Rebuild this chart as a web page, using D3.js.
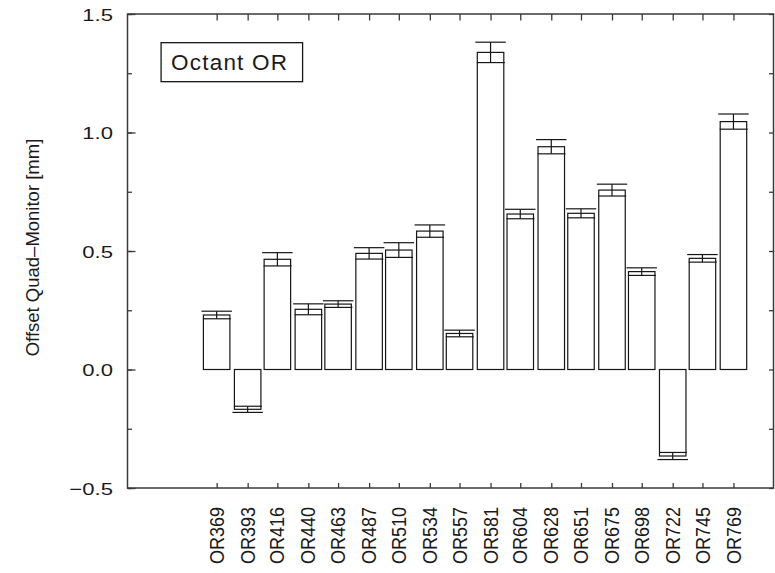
<!DOCTYPE html>
<html>
<head>
<meta charset="utf-8">
<script src="https://cdn.jsdelivr.net/npm/d3@7"></script>
<style>
  html, body { margin: 0; padding: 0; background: #fff; }
  svg { display: block; }
  text { font-family: "Liberation Sans", Arial, Helvetica, sans-serif; fill: #1a1a1a; }
</style>
</head>
<body>
<svg id="chart" width="775" height="573"></svg>
<script>
// Quadrupole stations of octant OR and their position along the beam line
const stations = ["OR369","OR393","OR416","OR440","OR463","OR487","OR510","OR534","OR557",
                  "OR581","OR604","OR628","OR651","OR675","OR698","OR722","OR745","OR769"];
const positions = [369, 393, 416, 440, 463, 487, 510, 534, 557,
                   581, 604, 628, 651, 675, 698, 722, 745, 769];
// Offset between quadrupole and monitor [mm] and its uncertainty
const offsets = [0.230, -0.168, 0.465, 0.254, 0.276, 0.490, 0.504, 0.584, 0.152,
                 1.338, 0.656, 0.940, 0.659, 0.757, 0.413, -0.365, 0.469, 1.046];
const errors  = [0.016, 0.013, 0.028, 0.023, 0.014, 0.024, 0.031, 0.026, 0.014,
                 0.043, 0.020, 0.030, 0.019, 0.025, 0.016, 0.015, 0.016, 0.032];
const yMajorTicks = [-0.5, 0.0, 0.5, 1.0, 1.5];
const yMinorTicks = [-0.5, -0.25, 0, 0.25, 0.5, 0.75, 1.0, 1.25, 1.5];
const legendLabel = "Octant OR";
const yTitle = "Offset Quad\u2013Monitor [mm]";

const svg = d3.select("#chart");
const margin = { left: 127.5, right: 1.5, top: 14, bottom: 85 };
const W = 775, H = 573;
const x0 = margin.left, x1 = W - margin.right, y0 = margin.top, y1 = H - margin.bottom;

const x = d3.scaleLinear().domain([300, 800]).range([x0, x1]);
const y = d3.scaleLinear().domain([-0.5, 1.5]).range([y1, y0]);

const lineColor = "#161616";
const frameColor = "#3a3a3a";
const barWidth = 26.5;

const data = stations.map((s, i) => ({ name: s, pos: positions[i], v: offsets[i], e: errors[i] }));

// Bars
const g = svg.append("g");
g.selectAll("rect.bar").data(data).enter().append("rect")
  .attr("class", "bar")
  .attr("x", d => x(d.pos) - barWidth / 2)
  .attr("width", barWidth)
  .attr("y", d => Math.min(y(d.v), y(0)))
  .attr("height", d => Math.abs(y(d.v) - y(0)))
  .attr("fill", "#fff")
  .attr("stroke", lineColor)
  .attr("stroke-width", 1.2);

// Error bars: outer cap (away from zero) slightly wider than the inner one
const eb = g.selectAll("g.err").data(data).enter().append("g").attr("class", "err")
  .attr("stroke", lineColor).attr("stroke-width", 1.2);
eb.append("line")
  .attr("x1", d => x(d.pos)).attr("x2", d => x(d.pos))
  .attr("y1", d => y(d.v + d.e)).attr("y2", d => y(d.v - d.e));
eb.append("line")
  .attr("x1", d => x(d.pos) - barWidth / 2 - 2).attr("x2", d => x(d.pos) + barWidth / 2 + 2)
  .attr("y1", d => y(d.v + Math.sign(d.v) * d.e)).attr("y2", d => y(d.v + Math.sign(d.v) * d.e));
eb.append("line")
  .attr("x1", d => x(d.pos) - barWidth / 2 - 0.5).attr("x2", d => x(d.pos) + barWidth / 2 + 1)
  .attr("y1", d => y(d.v - Math.sign(d.v) * d.e)).attr("y2", d => y(d.v - Math.sign(d.v) * d.e));

// Axes with inward ticks
function styleAxis(sel) {
  sel.select(".domain").remove();
  sel.selectAll(".tick line").attr("stroke", frameColor).attr("stroke-width", 1.3);
}

// left minor ticks
svg.append("g").attr("transform", `translate(${x0},0)`)
  .call(d3.axisLeft(y).tickValues(yMinorTicks).tickSize(-4.5).tickFormat(""))
  .call(styleAxis);
// left major ticks + labels
const yAxisL = svg.append("g").attr("transform", `translate(${x0},0)`)
  .call(d3.axisLeft(y).tickValues(yMajorTicks).tickSize(-8).tickPadding(11.2).tickFormat(d3.format(".1f")))
  .call(styleAxis);
yAxisL.selectAll(".tick text")
  .attr("font-size", 17).attr("fill", "#1a1a1a")
  .attr("transform", "scale(1.3,1)")
  .attr("dy", "0.36em");

// right ticks
svg.append("g").attr("transform", `translate(${x1},0)`)
  .call(d3.axisRight(y).tickValues(yMinorTicks).tickSize(-4.5).tickFormat(""))
  .call(styleAxis);

// top ticks
svg.append("g").attr("transform", `translate(0,${y0})`)
  .call(d3.axisTop(x).tickValues(positions).tickSize(-6.5).tickFormat(""))
  .call(styleAxis);

// bottom ticks + rotated station labels
const xAxisB = svg.append("g").attr("transform", `translate(0,${y1})`)
  .call(d3.axisBottom(x).tickValues(positions).tickSize(-5).tickFormat((d, i) => stations[i]))
  .call(styleAxis);
xAxisB.selectAll(".tick text")
  .attr("font-size", 18).attr("fill", "#1a1a1a")
  .attr("text-anchor", "end")
  .attr("transform", "rotate(-90) scale(1,1.08)")
  .attr("x", -19).attr("y", 0).attr("dy", "0.34em");

// Frame
svg.append("rect")
  .attr("x", x0).attr("y", y0).attr("width", x1 - x0).attr("height", y1 - y0)
  .attr("fill", "none").attr("stroke", frameColor).attr("stroke-width", 1.5);

// Legend box
const lg = svg.append("g");
lg.append("rect")
  .attr("x", x(326)).attr("y", y(1.379)).attr("width", 141.5).attr("height", 39)
  .attr("fill", "#fff").attr("stroke", lineColor).attr("stroke-width", 1.3);
lg.append("text")
  .attr("x", x(326) + 10).attr("y", y(1.379) + 27.5)
  .attr("font-size", 22.5).attr("letter-spacing", 1.2)
  .text(legendLabel);

// Y axis title
svg.append("text")
  .attr("transform", `translate(39,247.5) rotate(-90)`)
  .attr("text-anchor", "middle")
  .attr("font-size", 18.5)
  .text(yTitle);
</script>
</body>
</html>
